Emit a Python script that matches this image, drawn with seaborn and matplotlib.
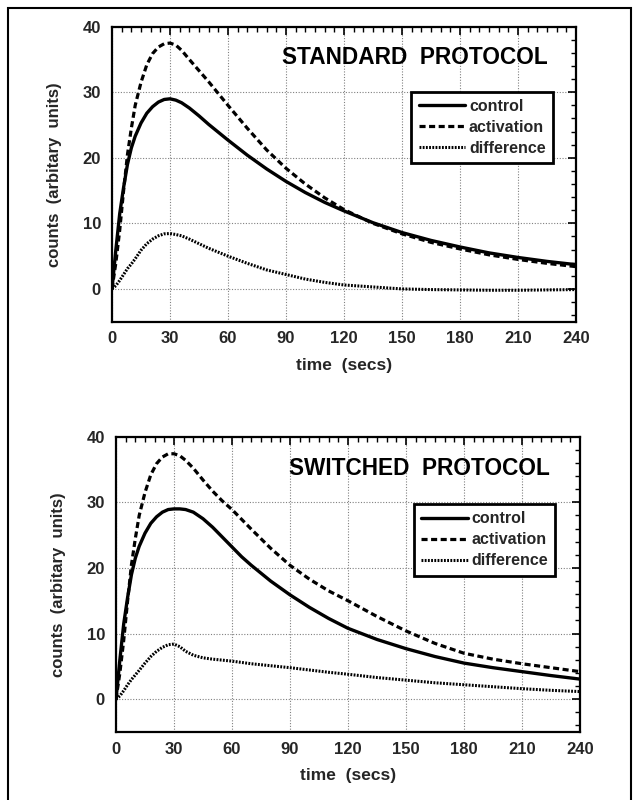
import numpy as np
import pandas as pd
import matplotlib
matplotlib.use("Agg")
import matplotlib.pyplot as plt
import seaborn as sns
from matplotlib.patches import Rectangle
from matplotlib.ticker import MultipleLocator

sns.set_theme(style="white")
plt.rcParams['font.family'] = ['Liberation Sans', 'DejaVu Sans']
plt.rcParams['font.weight'] = 'bold'

# ---------------- data ----------------
time_std = [0, 2, 4, 6, 8, 10, 12, 15, 18, 21, 24, 27, 30, 33, 36, 40, 45, 50, 55, 60,
            70, 80, 90, 100, 110, 120, 135, 150, 165, 180, 195, 210, 225, 240]
control_std = [0, 6, 11.5, 15.5, 19, 21.5, 23.3, 25.3, 26.8, 27.8, 28.5, 28.9, 29.0, 28.8, 28.4,
               27.6, 26.4, 25.1, 23.9, 22.7, 20.4, 18.3, 16.4, 14.7, 13.2, 11.9, 10.1, 8.6,
               7.4, 6.4, 5.5, 4.8, 4.2, 3.7]
activation_std = [0, 4, 9, 15, 20.5, 24.5, 28, 31.5, 34.2, 35.9, 36.9, 37.4, 37.5, 37.2, 36.4,
                  35.0, 33.3, 31.6, 29.8, 28.0, 24.5, 21.2, 18.4, 16.0, 13.9, 12.1, 10.0, 8.4,
                  7.1, 6.1, 5.2, 4.5, 3.9, 3.4]
difference_std = [0, 0.5, 1.3, 2.2, 3.1, 3.8, 4.6, 5.9, 6.9, 7.6, 8.1, 8.4, 8.45, 8.3, 8.1,
                  7.6, 6.9, 6.2, 5.6, 5.0, 3.9, 2.9, 2.2, 1.5, 1.0, 0.6, 0.3, 0.0,
                  -0.1, -0.15, -0.2, -0.2, -0.15, -0.1]

time_sw = [0, 2, 4, 6, 8, 10, 12, 15, 18, 21, 24, 27, 30, 33, 36, 40, 45, 50, 55, 60,
           65, 70, 80, 90, 100, 110, 120, 135, 150, 165, 180, 195, 210, 225, 240]
control_sw = [0, 6, 11.5, 15.5, 19, 21.5, 23.3, 25.3, 26.8, 27.8, 28.5, 28.9, 29.0, 29.0, 28.9,
              28.5, 27.5, 26.2, 24.7, 23.2, 21.7, 20.4, 18.0, 15.9, 14.0, 12.3, 10.8, 9.1, 7.7,
              6.5, 5.5, 4.8, 4.2, 3.6, 3.06]
activation_sw = [0, 4, 9, 15, 20.5, 24.5, 28, 31.5, 34.2, 35.9, 36.9, 37.4, 37.4, 37.1, 36.4,
                 35.2, 33.4, 31.7, 30.2, 28.9, 27.4, 25.9, 23.0, 20.4, 18.3, 16.5, 15.0, 12.6, 10.4,
                 8.5, 7.0, 6.1, 5.4, 4.8, 4.2]
difference_sw = [0, 0.5, 1.3, 2.2, 3.0, 3.7, 4.4, 5.5, 6.5, 7.3, 7.9, 8.3, 8.4, 8.0, 7.3,
                 6.7, 6.3, 6.1, 5.95, 5.8, 5.6, 5.4, 5.1, 4.8, 4.45, 4.1, 3.8, 3.3, 2.9,
                 2.5, 2.2, 1.9, 1.6, 1.35, 1.16]

series_names = ["control", "activation", "difference"]
titles = ["STANDARD  PROTOCOL", "SWITCHED  PROTOCOL"]
x_ticks = [0, 30, 60, 90, 120, 150, 180, 210, 240]
y_ticks = [0, 10, 20, 30, 40]

panels = [
    (time_std, [control_std, activation_std, difference_std]),
    (time_sw, [control_sw, activation_sw, difference_sw]),
]

styles = {
    "control": dict(linestyle="-", linewidth=2.4),
    "activation": dict(linestyle=(0, (1.9, 1.1)), linewidth=2.3),
    "difference": dict(linestyle=(0, (0.6, 0.45)), linewidth=2.2),
}

W, H = 637, 800
fig = plt.figure(figsize=(W / 100, H / 100), dpi=100)
fig.patch.set_facecolor("white")

axes_px = [(112, 26.7, 464, 295.0), (116, 436.7, 464, 295.3)]
legend_anchor = [(0.950, 0.780), (0.947, 0.772)]
title_pos = [(0.940, 0.894), (0.935, 0.893)]

for i, (t, vals) in enumerate(panels):
    x0, ytop, w, h = axes_px[i]
    ax = fig.add_axes([x0 / W, 1 - (ytop + h) / H, w / W, h / H])
    ax.set_facecolor("white")
    lines = []
    for name, v in zip(series_names, vals):
        df = pd.DataFrame({"time": t, "counts": v})
        sns.lineplot(data=df, x="time", y="counts", ax=ax, color="black",
                     legend=False, **styles[name])
        lines.append(ax.get_lines()[-1])
    ax.set_xlim(0, 240)
    ax.set_ylim(-5, 40)
    ax.set_xticks(x_ticks)
    ax.set_yticks(y_ticks)
    ax.xaxis.set_minor_locator(MultipleLocator(5))
    ax.yaxis.set_minor_locator(MultipleLocator(2))
    ax.tick_params(which="major", direction="in", top=True, right=True,
                   length=6, width=1.2, color="black", labelsize=12)
    ax.tick_params(axis="x", which="major", pad=7.0)
    ax.tick_params(axis="y", which="major", pad=8.0)
    ax.tick_params(which="minor", direction="in", top=True, right=True,
                   length=3.5, width=1.0, color="black")
    for lab in ax.get_xticklabels() + ax.get_yticklabels():
        lab.set_fontweight("bold")
    ax.grid(True, which="major", color="#808080", linestyle=(0, (1, 1.5)), linewidth=0.8)
    for sp in ax.spines.values():
        sp.set_visible(True)
        sp.set_color("black")
        sp.set_linewidth(1.6)
    ax.set_xlabel("time  (secs)", fontsize=12.5, fontweight="bold", labelpad=8)
    ax.set_ylabel("counts  (arbitary  units)", fontsize=12, fontweight="bold", labelpad=15)
    ax.text(title_pos[i][0], title_pos[i][1], titles[i], transform=ax.transAxes,
            ha="right", va="center", fontsize=16.3, fontweight="bold", color="black")
    leg = ax.legend(lines, series_names, loc="upper right", bbox_to_anchor=legend_anchor[i],
                    frameon=True, fancybox=False, framealpha=1, edgecolor="black",
                    prop={"size": 11.5, "weight": "bold"}, handlelength=2.9,
                    handletextpad=0.25, borderpad=0.45, labelspacing=0.38, borderaxespad=0)
    leg.get_frame().set_linewidth(2.0)

fig.add_artist(Rectangle((8 / W, -0.05), (631 - 8) / W, 1 - 8 / H + 0.05,
                         transform=fig.transFigure, fill=False, edgecolor="black",
                         linewidth=1.5, clip_on=False))

fig.savefig("out.png", dpi=100, facecolor="white")
